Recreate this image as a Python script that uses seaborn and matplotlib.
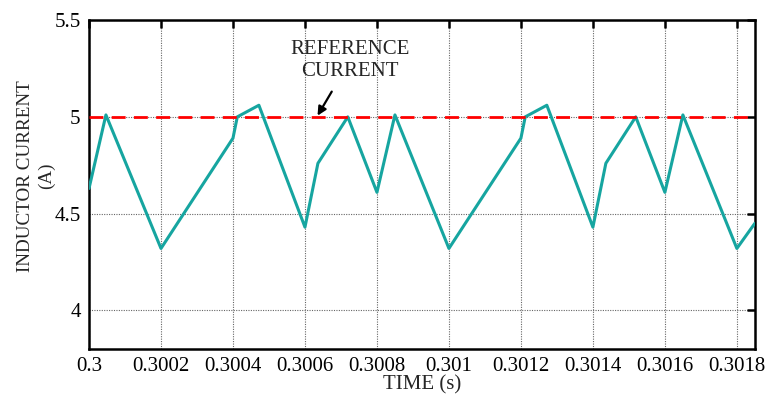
import matplotlib
matplotlib.use("Agg")
import matplotlib.pyplot as plt
import seaborn as sns
import pandas as pd

# Inductor current waveform (time in s, current in A)
time_s = [0.3, 0.300047, 0.3002, 0.3004, 0.300412, 0.300472, 0.3006, 0.300636,
          0.300719, 0.3008, 0.30085, 0.301, 0.3012, 0.301212, 0.301272, 0.3014,
          0.301436, 0.301519, 0.3016, 0.30165, 0.3018, 0.30185]
current_a = [4.63, 5.01, 4.32, 4.89, 5.0, 5.06, 4.43, 4.76,
             5.0, 4.61, 5.01, 4.32, 4.89, 5.0, 5.06, 4.43,
             4.76, 5.0, 4.61, 5.01, 4.32, 4.45]
reference_current = 5.0

x_ticks = [0.3, 0.3002, 0.3004, 0.3006, 0.3008, 0.301, 0.3012, 0.3014, 0.3016, 0.3018]
x_tick_labels = ["0.3", "0.3002", "0.3004", "0.3006", "0.3008", "0.301",
                 "0.3012", "0.3014", "0.3016", "0.3018"]
y_ticks = [4.0, 4.5, 5.0, 5.5]
y_tick_labels = ["4", "4.5", "5", "5.5"]

sns.set_style("white")
plt.rcParams["font.family"] = ["Liberation Serif", "DejaVu Serif"]

df = pd.DataFrame({"time": time_s, "current": current_a})

fig = plt.figure(figsize=(7.68, 3.94), dpi=100)
ax = fig.add_axes([0.1159, 0.114, 0.867, 0.835])

sns.lineplot(data=df, x="time", y="current", ax=ax, color="#16a5a0",
             linewidth=2.2, zorder=3)
ax.axhline(reference_current, color="#ff0000", linestyle=(0, (5, 3)),
           linewidth=2, zorder=4)

ax.set_xlim(0.3, 0.30185)
ax.set_ylim(3.8, 5.5)
ax.set_xticks(x_ticks)
ax.set_xticklabels(x_tick_labels)
ax.set_yticks(y_ticks)
ax.set_yticklabels(y_tick_labels)

ax.grid(True, color="#666666", linestyle=(0, (1, 1.2)), linewidth=0.8, zorder=1)
for sp in ax.spines.values():
    sp.set_linewidth(1.8)
    sp.set_color("black")
ax.tick_params(axis="both", direction="in", length=6, width=1.8,
               top=True, right=True, labelsize=15, colors="black", pad=6)

ax.set_xlabel("TIME (s)", fontsize=15, labelpad=-1)
ax.set_ylabel("INDUCTOR CURRENT\n(A)", fontsize=13.8, linespacing=1.3)
ax.yaxis.set_label_coords(-0.051, 0.526)

ax.annotate("REFERENCE\nCURRENT", xy=(0.300633, 5.0), xytext=(0.300725, 5.29),
            ha="center", va="center", fontsize=15, linespacing=1.2,
            arrowprops=dict(arrowstyle="-|>", color="black", lw=1.6,
                            shrinkA=6, shrinkB=1, mutation_scale=13))

fig.savefig("out.png", dpi=100)
